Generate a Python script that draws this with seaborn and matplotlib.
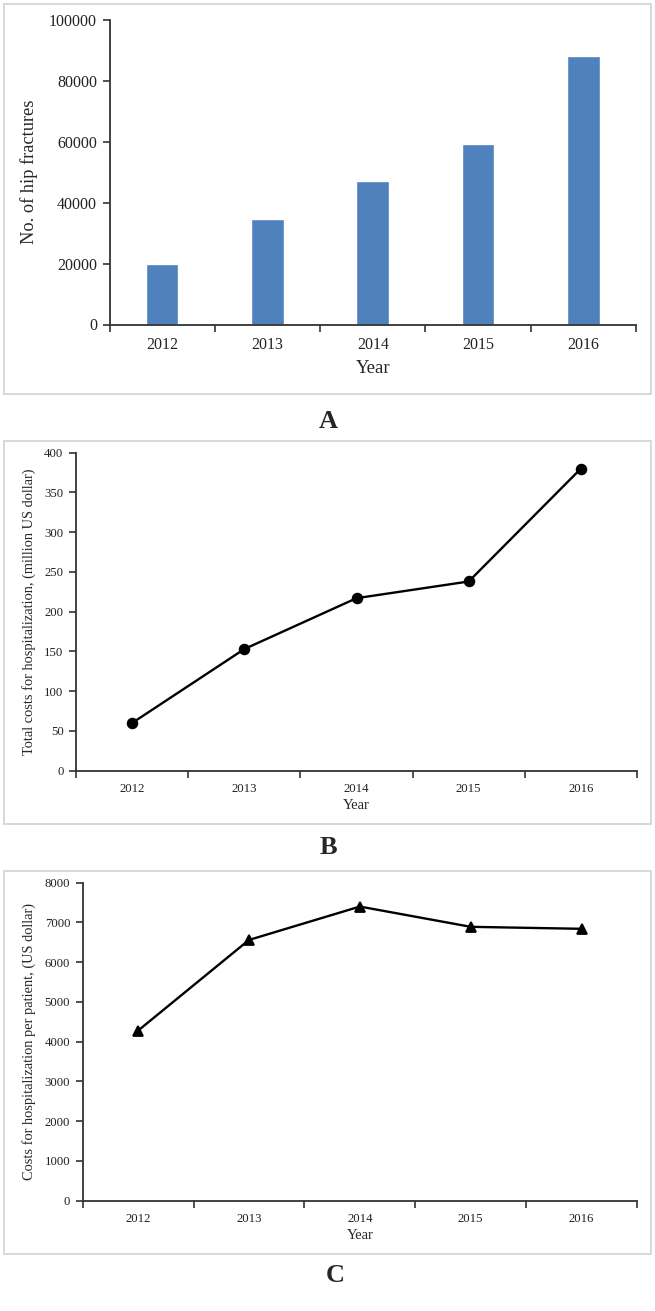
import matplotlib
matplotlib.use("Agg")
import matplotlib.pyplot as plt
from matplotlib.patches import Rectangle
import seaborn as sns
import pandas as pd
import numpy as np

years = ["2012", "2013", "2014", "2015", "2016"]
hip_fractures = [20000, 34500, 47100, 59200, 88200]
total_costs = [60, 153, 217, 238, 380]
cost_per_patient = [4280, 6560, 7400, 6890, 6840]

sns.set_style("ticks")
plt.rcParams['font.family'] = ['Liberation Serif', 'DejaVu Serif']

W, H = 655, 1311
fig = plt.figure(figsize=(W / 100, H / 100), dpi=100)


def ax_rect(l, r, t, b):
    return [l / W, 1 - b / H, (r - l) / W, (b - t) / H]


def box(l, t, r, b):
    fig.add_artist(Rectangle((l / W, 1 - b / H), (r - l) / W, (b - t) / H,
                             transform=fig.transFigure, fill=False,
                             edgecolor="#d6d6d6", linewidth=1.3))


def style_axis(ax, tick_fs, ymax, ystep):
    ax.set_xlim(-0.5, 4.5)
    ax.set_ylim(0, ymax)
    ax.set_yticks(np.arange(0, ymax + 1, ystep))
    ax.set_xticks(range(5))
    ax.set_xticklabels(years)
    ax.set_xticks(np.arange(-0.5, 5, 1), minor=True)
    ax.tick_params(axis="x", which="major", length=0, labelsize=tick_fs, pad=9, colors="#222222")
    ax.tick_params(axis="x", which="minor", length=5, width=1.2, direction="out", color="#333333")
    ax.tick_params(axis="y", length=5, width=1.2, direction="out", labelsize=tick_fs, pad=4,
                   colors="#222222", color="#333333")
    for s in ["top", "right"]:
        ax.spines[s].set_visible(False)
    for s in ["left", "bottom"]:
        ax.spines[s].set_linewidth(1.3)
        ax.spines[s].set_color("#333333")
    ax.set_facecolor("white")


# Panel A
box(4, 4, 651, 394)
axA = fig.add_axes(ax_rect(109.5, 636, 20, 324.5))
dfA = pd.DataFrame({"Year": years, "count": hip_fractures})
sns.barplot(data=dfA, x="Year", y="count", color="#4F81BD", saturation=1, width=0.31, ax=axA)
style_axis(axA, 11.5, 100000, 20000)
axA.set_xlabel("Year", fontsize=13.5, labelpad=5)
axA.set_ylabel("No. of hip fractures", fontsize=13.2, labelpad=8)
fig.text(328 / W, 1 - 421 / H, "A", ha="center", va="center", fontsize=19, fontweight="bold")

# Panel B
box(4, 441, 651, 824)
axB = fig.add_axes(ax_rect(76, 637, 452.7, 770.7))
dfB = pd.DataFrame({"Year": years, "cost": total_costs})
sns.pointplot(data=dfB, x="Year", y="cost", color="black", marker="o", markersize=7,
              linewidth=1.7, ax=axB)
style_axis(axB, 9.2, 400, 50)
axB.set_xlabel("Year", fontsize=10.5, labelpad=3)
axB.set_ylabel("Total costs for hospitalization, (million US dollar)", fontsize=10.4, labelpad=6)
fig.text(328 / W, 1 - 848 / H, "B", ha="center", va="center", fontsize=19, fontweight="bold")

# Panel C
box(4, 871, 651, 1254)
axC = fig.add_axes(ax_rect(82.7, 637, 882.7, 1200.7))
dfC = pd.DataFrame({"Year": years, "cost": cost_per_patient})
sns.pointplot(data=dfC, x="Year", y="cost", color="black", marker="^", markersize=7,
              linewidth=1.7, ax=axC)
style_axis(axC, 9.2, 8000, 1000)
axC.set_xlabel("Year", fontsize=10.5, labelpad=3)
axC.set_ylabel("Costs for hospitalization per patient, (US dollar)", fontsize=10.4, labelpad=6)
fig.text(335 / W, 1 - 1276 / H, "C", ha="center", va="center", fontsize=19, fontweight="bold")

fig.savefig("out.png", dpi=100, facecolor="white")
